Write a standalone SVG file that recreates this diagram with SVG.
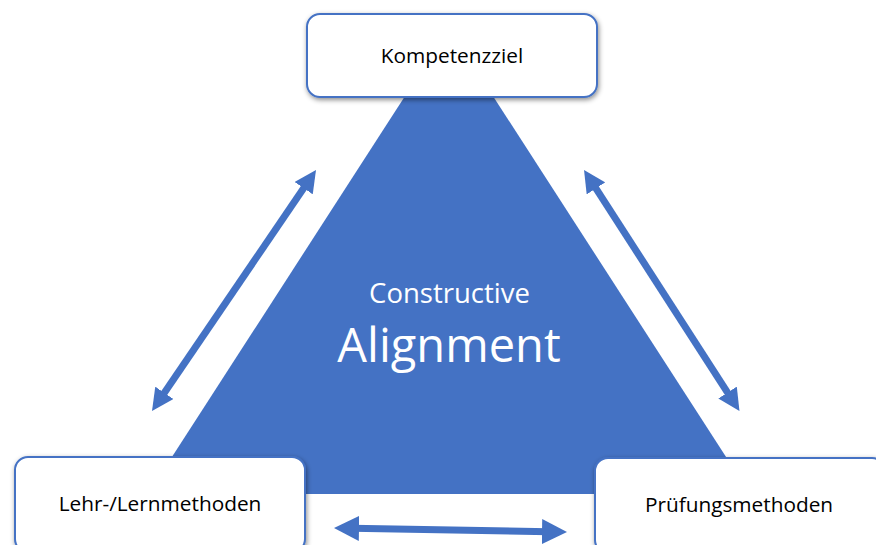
<svg xmlns="http://www.w3.org/2000/svg" width="876" height="545" viewBox="0 0 876 545">
<style>
.box{fill:#ffffff;stroke:#4472C4;stroke-width:2;filter:url(#sh)}
.lbl{font-family:"Open Sans","Noto Sans",sans-serif;font-size:20.8px;fill:#000;text-anchor:middle}
.ctr{font-family:"Open Sans","Noto Sans",sans-serif;fill:#fff;text-anchor:middle}
.arr{stroke:#4472C4;stroke-width:7;fill:none}
</style>
<defs>
<filter id="sh" x="-10%" y="-20%" width="120%" height="150%">
<feDropShadow dx="1" dy="2" stdDeviation="2.5" flood-color="#000" flood-opacity="0.45"/>
</filter>
<marker id="ah" markerUnits="userSpaceOnUse" viewBox="0 0 22 22" markerWidth="22" markerHeight="22" refX="6" refY="11" orient="auto-start-reverse">
<path d="M0,0 L22,11 L0,22 z" fill="#4472C4"/>
</marker>
<marker id="ah2" markerUnits="userSpaceOnUse" viewBox="0 0 25 25" markerWidth="25" markerHeight="25" refX="7" refY="12.5" orient="auto-start-reverse">
<path d="M0,0 L25,12.5 L0,25 z" fill="#4472C4"/>
</marker>
</defs>
<rect width="876" height="545" fill="#ffffff"/>
<g id="triangle">
<polygon points="449,28 750,494 148,494" fill="#4472C4"/>
<text class="ctr" x="449.5" y="303" font-size="27.5">Constructive</text>
<text class="ctr" x="449" y="362" font-size="47">Alignment</text>
</g>
<g id="connectors">
<line class="arr" x1="161" y1="397.8" x2="307" y2="183.2" marker-start="url(#ah)" marker-end="url(#ah)"/>
<line class="arr" x1="592.7" y1="183.4" x2="730.8" y2="397.6" marker-start="url(#ah)" marker-end="url(#ah)"/>
<line class="arr" x1="352" y1="528.3" x2="549" y2="531.7" marker-start="url(#ah2)" marker-end="url(#ah2)"/>
</g>
<g id="kompetenzziel">
<rect class="box" x="307" y="14" width="290" height="83" rx="13"/>
<text class="lbl" x="452" y="63">Kompetenzziel</text>
</g>
<g id="lehrmethoden">
<rect class="box" x="15" y="457" width="290" height="95" rx="13"/>
<text class="lbl" x="160" y="511">Lehr-/Lernmethoden</text>
</g>
<g id="pruefungsmethoden">
<rect class="box" x="595" y="458" width="290" height="95" rx="13"/>
<text class="lbl" x="739" y="511.5">Prüfungsmethoden</text>
</g>
</svg>
